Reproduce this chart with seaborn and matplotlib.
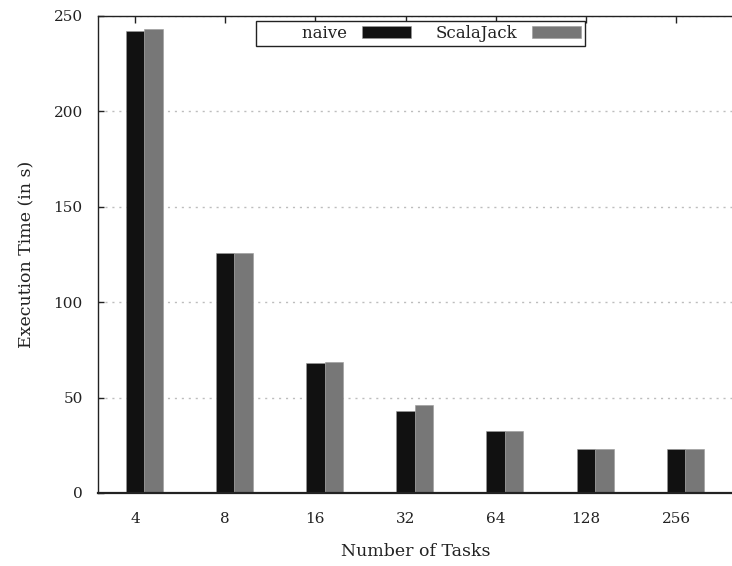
import numpy as np
import pandas as pd
import seaborn as sns
import matplotlib
matplotlib.use("Agg")
import matplotlib.pyplot as plt
import matplotlib.transforms as mtransforms

# Execution times (seconds) per number of tasks
tasks = ["4", "8", "16", "32", "64", "128", "256"]
naive = [242.0, 125.7, 68.1, 43.1, 32.5, 23.0, 23.0]
scalajack = [243.4, 125.7, 68.9, 46.1, 32.5, 23.0, 23.0]
series_names = ["naive", "ScalaJack"]
colors = ["#111111", "#777777"]

df = pd.DataFrame({
    "tasks": tasks * 2,
    "time": naive + scalajack,
    "impl": [series_names[0]] * len(tasks) + [series_names[1]] * len(tasks),
})

sns.set_style("white")
plt.rcParams["font.family"] = ["DejaVu Serif"]
plt.rcParams["font.size"] = 11

ink = "#222222"

fig = plt.figure(figsize=(7.32, 5.66), dpi=100)
ax = fig.add_axes([98 / 732, 1 - 493 / 566, (734 - 98) / 732, (493 - 16) / 566])

bar_width = 0.41
sns.barplot(data=df, x="tasks", y="time", hue="impl", order=tasks,
            hue_order=series_names, palette=colors, saturation=1,
            width=bar_width, dodge=True, ax=ax, edgecolor="#9a9a9a",
            linewidth=0.4, legend=True)

ax.set_ylim(0, 250)
ax.set_xlim(-0.513, 6.54)
ax.set_yticks([0, 50, 100, 150, 200, 250])

# ticks sit on the first bar of each cluster
tick_pos = np.arange(len(tasks)) - bar_width / 4
ax.set_xticks(tick_pos)
ax.set_xticklabels(tasks)
shift = mtransforms.ScaledTranslation(-2 / 100, 0, fig.dpi_scale_trans)
for lbl in ax.get_xticklabels():
    lbl.set_transform(lbl.get_transform() + shift)

ax.tick_params(axis="x", bottom=False, top=True, direction="in", length=5,
               width=1, labelbottom=True, labeltop=False, pad=14,
               labelsize=11, labelcolor=ink, color=ink)
ax.tick_params(axis="y", left=True, right=False, direction="in", length=4,
               width=1, pad=11, labelsize=11, labelcolor=ink, color=ink)

ax.yaxis.grid(True, linestyle=(0, (1.5, 3.5)), color="#bdbdbd", linewidth=1)
ax.xaxis.grid(False)
ax.set_axisbelow(True)

for side in ["top", "left", "bottom"]:
    ax.spines[side].set_visible(True)
    ax.spines[side].set_color(ink)
ax.spines["top"].set_linewidth(1.0)
ax.spines["left"].set_linewidth(1.0)
ax.spines["bottom"].set_linewidth(1.6)
ax.spines["right"].set_visible(False)

ax.set_xlabel("Number of Tasks", fontsize=12.5, color=ink, labelpad=12)
ax.set_ylabel("Execution Time (in s)", fontsize=12.5, color=ink, labelpad=13)

handles, labels = ax.get_legend_handles_labels()
leg = ax.legend(handles, ["        naive", "ScalaJack"], ncol=2, markerfirst=False,
                loc="upper center", bbox_to_anchor=(0.507, 0.9895),
                frameon=True, fancybox=False, shadow=False, framealpha=1,
                edgecolor=ink, fontsize=12, handlelength=2.94,
                handleheight=0.72, handletextpad=0.9, columnspacing=1.44,
                borderpad=0.25, borderaxespad=0.0)
leg.get_frame().set_linewidth(1.0)
for t in leg.get_texts():
    t.set_color(ink)

fig.savefig("out.png", dpi=100)
